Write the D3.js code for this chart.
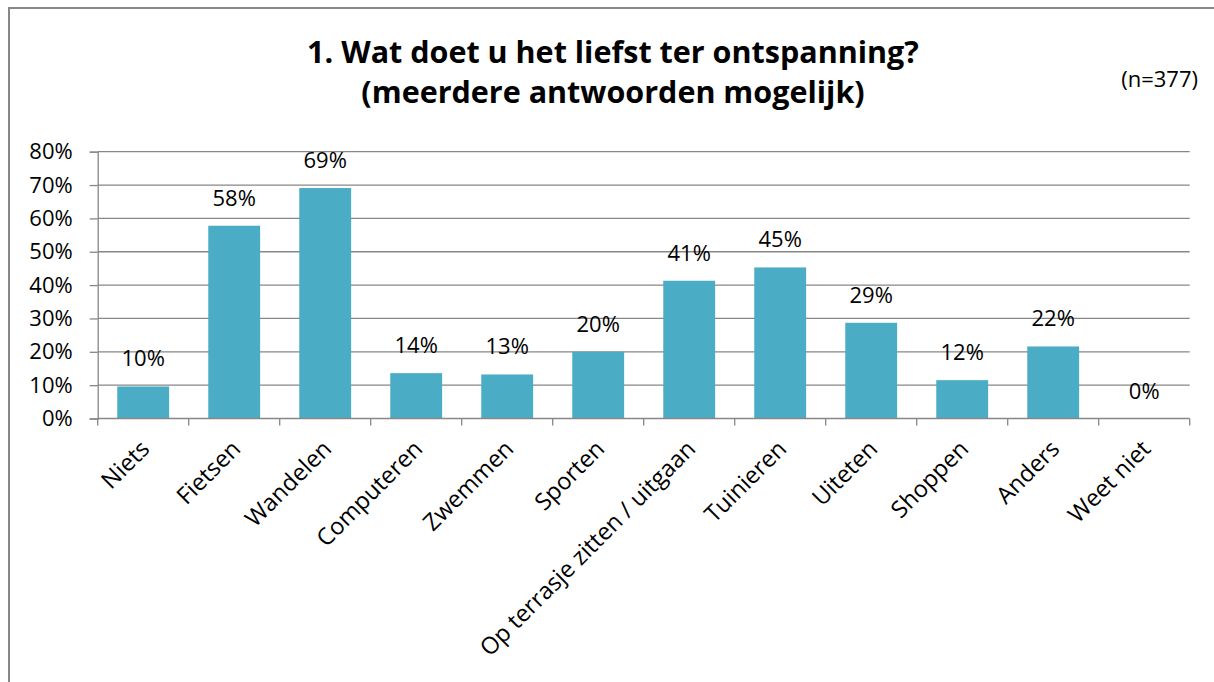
<!DOCTYPE html>
<html>
<head>
<meta charset="utf-8">
<script src="https://cdn.jsdelivr.net/npm/d3@7/dist/d3.min.js"></script>
<style>
  html, body { margin: 0; padding: 0; background: #fff; }
  svg { display: block; }
  text { font-family: "Open Sans", "Noto Sans", sans-serif; fill: #000; }
</style>
</head>
<body>
<svg id="chart" width="1214" height="682"></svg>
<script>
const categories = ["Niets", "Fietsen", "Wandelen", "Computeren", "Zwemmen", "Sporten",
  "Op terrasje zitten / uitgaan", "Tuinieren", "Uiteten", "Shoppen", "Anders", "Weet niet"];
const values = [0.096, 0.578, 0.691, 0.136, 0.132, 0.200, 0.413, 0.453, 0.287, 0.115, 0.216, 0.0];
const yTicks = [0, 0.1, 0.2, 0.3, 0.4, 0.5, 0.6, 0.7, 0.8];
const titleLines = ["1. Wat doet u het liefst ter ontspanning?", "(meerdere antwoorden mogelijk)"];
const noteText = "(n=377)";

const svg = d3.select("#chart");
const W = 1214, H = 682;
const plot = { left: 97.7, right: 1189.7, top: 151.7, bottom: 418.5 };
const gridColor = "#878787";
const barColor = "#4BACC6";

// outer chart border
svg.append("rect")
  .attr("x", 9).attr("y", 8)
  .attr("width", W + 20).attr("height", H + 20)
  .attr("fill", "#fff").attr("stroke", "#878787").attr("stroke-width", 2);

const x = d3.scaleBand().domain(categories)
  .range([plot.left, plot.right])
  .paddingInner(0.43).paddingOuter(0.215);
const y = d3.scaleLinear().domain([0, 0.8]).range([plot.bottom, plot.top]);

// gridlines + y axis
const yAxis = d3.axisLeft(y).tickValues(yTicks).tickFormat(d3.format(".0%"))
  .tickSize(8).tickPadding(17);
const gy = svg.append("g").attr("transform", `translate(${plot.left},0)`).call(yAxis);
gy.select(".domain").attr("stroke", gridColor).attr("stroke-width", 1.3);
gy.selectAll(".tick line").attr("stroke", gridColor).attr("stroke-width", 1.3);
gy.selectAll(".tick text").attr("font-size", 22).attr("font-family", "Open Sans").attr("fill", "#000");

svg.append("g").selectAll("line").data(yTicks.filter(d => d > 0)).join("line")
  .attr("x1", plot.left).attr("x2", plot.right)
  .attr("y1", d => y(d)).attr("y2", d => y(d))
  .attr("stroke", gridColor).attr("stroke-width", 1.3);

// bars
svg.append("g").selectAll("rect").data(values).join("rect")
  .attr("x", (d, i) => x(categories[i]))
  .attr("width", x.bandwidth())
  .attr("y", d => y(d))
  .attr("height", d => y(0) - y(d))
  .attr("fill", barColor);

// x axis line and ticks at band boundaries
svg.append("line")
  .attr("x1", plot.left).attr("x2", plot.right)
  .attr("y1", y(0)).attr("y2", y(0))
  .attr("stroke", gridColor).attr("stroke-width", 1.3);
const bounds = categories.map(c => x(c) - x.step() * x.paddingInner() / 2)
  .concat([plot.right]);
svg.append("g").selectAll("line").data(bounds).join("line")
  .attr("x1", d => d).attr("x2", d => d)
  .attr("y1", y(0)).attr("y2", y(0) + 7)
  .attr("stroke", gridColor).attr("stroke-width", 1.3);

// category labels rotated
svg.append("g").selectAll("text").data(categories).join("text")
  .attr("transform", d => `translate(${x(d) + x.bandwidth() / 2 - 4},${y(0) + 20}) rotate(-45)`)
  .attr("text-anchor", "end")
  .attr("dy", "0.71em")
  .attr("font-size", 23.5)
  .text(d => d);

// data labels
svg.append("g").selectAll("text").data(values).join("text")
  .attr("x", (d, i) => x(categories[i]) + x.bandwidth() / 2)
  .attr("y", d => y(d) - 20)
  .attr("text-anchor", "middle")
  .attr("font-size", 22)
  .text(d => d3.format(".0%")(d));

// title
const titleTargets = [622, 510];
titleLines.forEach((t, i) => {
  const el = svg.append("text")
    .attr("x", 613).attr("y", 63 + i * 40)
    .attr("text-anchor", "middle")
    .attr("font-size", 30.5)
    .attr("font-weight", "bold")
    .text(t);
  const w = el.node().getComputedTextLength();
  if (w > titleTargets[i]) {
    el.attr("textLength", titleTargets[i]).attr("lengthAdjust", "spacingAndGlyphs");
  }
});

svg.append("text")
  .attr("x", 1198).attr("y", 87)
  .attr("text-anchor", "end")
  .attr("font-size", 22)
  .text(noteText);
</script>
</body>
</html>
